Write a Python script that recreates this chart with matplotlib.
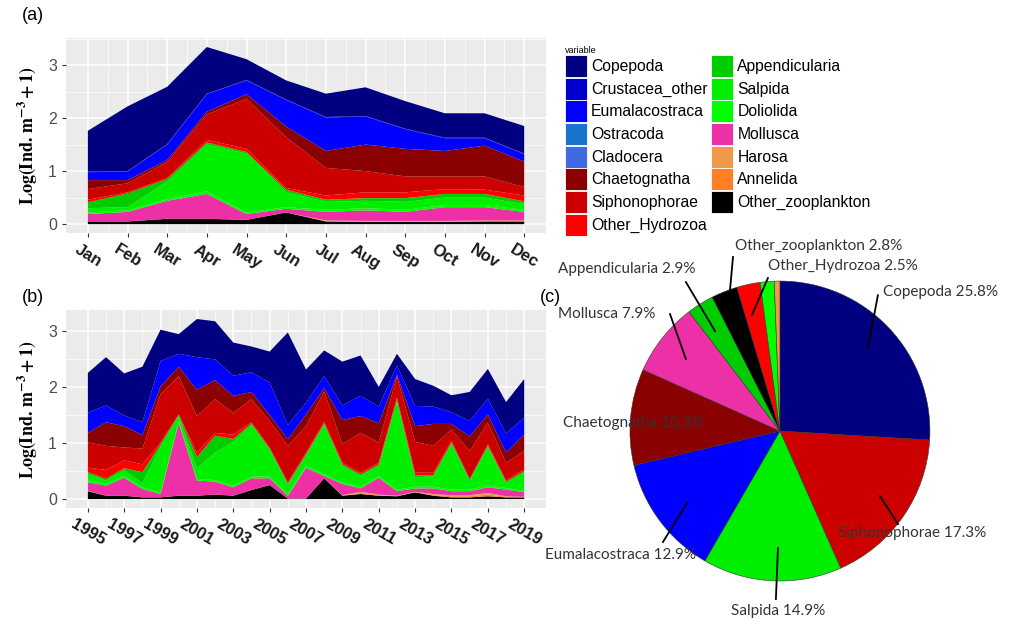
import numpy as np
import matplotlib
matplotlib.use('Agg')
import matplotlib.pyplot as plt
from matplotlib.patches import Patch

plt.rcParams['font.family'] = ['Liberation Sans', 'DejaVu Sans']
plt.rcParams['mathtext.fontset'] = 'stix'

# groups, top of the stack first
taxa = ['Copepoda', 'Crustacea_other', 'Eumalacostraca', 'Ostracoda', 'Cladocera',
        'Chaetognatha', 'Siphonophorae', 'Other_Hydrozoa', 'Appendicularia', 'Salpida',
        'Doliolida', 'Mollusca', 'Harosa', 'Annelida', 'Other_zooplankton']
colors = ['#000080', '#0000CD', '#0000FF', '#1874CD', '#4169E1',
          '#8B0000', '#CD0000', '#FF0000', '#00CD00', '#00EE00',
          '#00FF00', '#EE30A7', '#EE9A49', '#FF7F24', '#000000']

# (a) monthly means, log(ind/m3 + 1)
months = ['Jan', 'Feb', 'Mar', 'Apr', 'May', 'Jun', 'Jul', 'Aug', 'Sep', 'Oct', 'Nov', 'Dec']
m_copepoda = [0.77, 1.22, 1.08, 0.88, 0.39, 0.36, 0.44, 0.54, 0.52, 0.46, 0.46, 0.52]
m_crustacea_other = [0.01] * 12
m_eumalacostraca = [0.15, 0.16, 0.29, 0.33, 0.26, 0.50, 0.63, 0.53, 0.37, 0.24, 0.14, 0.14]
m_ostracoda = [0.0] * 12
m_cladocera = [0.0] * 12
m_chaetognatha = [0.17, 0.06, 0.04, 0.05, 0.09, 0.20, 0.32, 0.50, 0.52, 0.48, 0.58, 0.48]
m_siphonophorae = [0.20, 0.17, 0.30, 0.48, 0.94, 0.96, 0.52, 0.40, 0.30, 0.24, 0.25, 0.16]
m_other_hydrozoa = [0.05, 0.02, 0.02, 0.05, 0.06, 0.03, 0.08, 0.11, 0.11, 0.09, 0.08, 0.11]
m_appendicularia = [0.11, 0.26, 0.05, 0.04, 0.03, 0.05, 0.04, 0.05, 0.07, 0.07, 0.07, 0.05]
m_salpida = [0.08, 0.06, 0.33, 0.88, 1.11, 0.28, 0.15, 0.14, 0.15, 0.14, 0.14, 0.11]
m_doliolida = [0.03, 0.03, 0.03, 0.05, 0.03, 0.03, 0.04, 0.04, 0.04, 0.04, 0.04, 0.04]
m_mollusca = [0.14, 0.18, 0.34, 0.47, 0.11, 0.07, 0.16, 0.20, 0.17, 0.26, 0.25, 0.16]
m_harosa = [0, 0, 0, 0, 0, 0, 0.01, 0.01, 0.01, 0.01, 0.01, 0.01]
m_annelida = [0, 0, 0, 0, 0, 0, 0.01, 0.01, 0.01, 0.01, 0.01, 0.01]
m_other_zooplankton = [0.05, 0.05, 0.10, 0.10, 0.08, 0.22, 0.05, 0.04, 0.04, 0.04, 0.05, 0.05]

# (b) annual means
years = list(range(1995, 2020))
y_copepoda = [0.71, 0.86, 0.75, 0.99, 0.56, 0.35, 0.68, 0.68, 0.59, 0.46, 0.55, 1.65, 0.59,
              0.46, 0.78, 0.72, 0.35, 0.21, 0.48, 0.37, 0.30, 0.52, 0.53, 0.56, 0.69]
y_crustacea_other = [0.0] * 25
y_eumalacostraca = [0.36, 0.30, 0.19, 0.23, 0.45, 0.23, 0.58, 0.37, 0.36, 0.35, 0.58, 0.25, 0.21,
                    0.21, 0.26, 0.36, 0.30, 0.16, 0.36, 0.31, 0.21, 0.27, 0.28, 0.34, 0.30]
y_ostracoda = [0.0] * 25
y_cladocera = [0.0] * 25
y_chaetognatha = [0.17, 0.42, 0.38, 0.24, 0.14, 0.17, 0.47, 0.34, 0.30, 0.13, 0.11, 0.12, 0.21,
                  0.06, 0.43, 0.30, 0.34, 0.03, 0.28, 0.39, 0.10, 0.26, 0.15, 0.18, 0.29]
y_siphonophorae = [0.45, 0.43, 0.23, 0.28, 0.86, 0.68, 0.65, 0.60, 0.39, 0.41, 0.47, 0.65, 0.47,
                   0.54, 0.33, 0.71, 0.36, 0.38, 0.55, 0.48, 0.20, 0.50, 0.38, 0.32, 0.33]
y_other_hydrozoa = [0.08, 0.16, 0.14, 0.14, 0.03, 0.01, 0.08, 0.05, 0.08, 0.02, 0.02, 0.02, 0.03,
                    0.03, 0.03, 0.03, 0.03, 0.03, 0.05, 0.04, 0.03, 0.01, 0.03, 0.02, 0.03]
y_appendicularia = [0.04, 0.03, 0.04, 0.20, 0.05, 0.03, 0.20, 0.30, 0.05, 0.03, 0.03, 0.03, 0.03,
                    0.03, 0.03, 0.03, 0.03, 0.05, 0.03, 0.03, 0.03, 0.03, 0.03, 0.03, 0.03]
y_salpida = [0.11, 0.06, 0.10, 0.07, 0.81, 0.08, 0.19, 0.49, 0.78, 0.92, 0.47, 0.16, 0.18,
             0.88, 0.29, 0.19, 0.18, 1.56, 0.17, 0.18, 0.81, 0.15, 0.68, 0.08, 0.32]
y_doliolida = [0.03] * 25
y_mollusca = [0.15, 0.18, 0.32, 0.15, 0.06, 1.30, 0.27, 0.23, 0.15, 0.21, 0.12, 0.05, 0.55,
              0.04, 0.20, 0.06, 0.30, 0.08, 0.06, 0.10, 0.07, 0.07, 0.10, 0.12, 0.08]
y_harosa = [0.01, 0, 0, 0, 0, 0, 0, 0, 0, 0, 0, 0, 0,
            0, 0.01, 0.02, 0.01, 0.01, 0.01, 0.02, 0.02, 0.02, 0.03, 0.01, 0.01]
y_annelida = [0, 0, 0, 0, 0, 0, 0, 0, 0, 0, 0, 0, 0,
              0, 0, 0.02, 0.01, 0, 0, 0.01, 0.02, 0.02, 0.03, 0.01, 0]
y_other_zooplankton = [0.14, 0.06, 0.06, 0.03, 0.03, 0.06, 0.06, 0.08, 0.06, 0.16, 0.25, 0.01, 0.01,
                       0.37, 0.06, 0.09, 0.06, 0.05, 0.12, 0.06, 0.03, 0.03, 0.05, 0.03, 0.03]

# (c) share of total abundance (%), clockwise from 12 o'clock
pie_taxa = ['Copepoda', 'Siphonophorae', 'Salpida', 'Eumalacostraca', 'Chaetognatha', 'Mollusca',
            'Appendicularia', 'Other_zooplankton', 'Other_Hydrozoa', 'Doliolida', 'Harosa']
pie_pct = [25.8, 17.3, 14.9, 12.9, 10.3, 7.9, 2.9, 2.8, 2.5, 1.5, 0.6]

monthly = [m_copepoda, m_crustacea_other, m_eumalacostraca, m_ostracoda, m_cladocera,
           m_chaetognatha, m_siphonophorae, m_other_hydrozoa, m_appendicularia, m_salpida,
           m_doliolida, m_mollusca, m_harosa, m_annelida, m_other_zooplankton]
annual = [y_copepoda, y_crustacea_other, y_eumalacostraca, y_ostracoda, y_cladocera,
          y_chaetognatha, y_siphonophorae, y_other_hydrozoa, y_appendicularia, y_salpida,
          y_doliolida, y_mollusca, y_harosa, y_annelida, y_other_zooplankton]
colmap = dict(zip(taxa, colors))

fig = plt.figure(figsize=(10.11, 6.28), dpi=100)
ax_a = fig.add_axes([0.0653, 0.629, 0.4748, 0.3105])
ax_b = fig.add_axes([0.0653, 0.191, 0.4748, 0.3153])
ax_c = fig.add_axes([0.6231, 0.0748, 0.2967, 0.4777])

ylab = r'$\mathbf{Log(Ind.\,m^{-3}+1)}$'


def gg_panel(ax):
    ax.set_facecolor('#EBEBEB')
    for s in ax.spines.values():
        s.set_visible(False)
    ax.set_axisbelow(True)
    ax.grid(which='major', color='white', lw=1.1)
    ax.grid(which='minor', color='white', lw=0.5)
    ax.tick_params(which='major', length=3, width=0.8, color='#333333',
                   labelsize=11.5, labelcolor='#4D4D4D')
    ax.tick_params(which='minor', length=0)
    ax.set_yticks([0, 1, 2, 3])
    ax.set_yticks([0.5, 1.5, 2.5, 3.5], minor=True)
    ax.set_ylabel(ylab, fontsize=13, labelpad=6)


# (a) seasonal stack, bottom layer first
x_m = np.arange(1, 13)
ax_a.stackplot(x_m, monthly[::-1], colors=colors[::-1], lw=0)
gg_panel(ax_a)
ax_a.set_xlim(0.45, 12.55)
ax_a.set_ylim(-0.167, 3.51)
ax_a.set_xticks(x_m)
ax_a.set_xticks(x_m[:-1] + 0.5, minor=True)
ax_a.set_xticklabels(months, rotation=-32, ha='center', va='top', fontweight='bold',
                     color='#1A1A1A', fontsize=12)

# (b) inter-annual stack
ax_b.stackplot(years, annual[::-1], colors=colors[::-1], lw=0)
gg_panel(ax_b)
ax_b.set_xlim(1993.8, 2020.2)
ax_b.set_ylim(-0.16, 3.37)
ax_b.set_xticks(years[::2])
ax_b.set_xticks(years[1::2], minor=True)
ax_b.set_xticklabels([str(y) for y in years[::2]], rotation=-30, ha='center', va='top',
                     fontweight='bold', color='#1A1A1A', fontsize=12)

# legend shared by (a) and (b)
handles = [Patch(facecolor=c, edgecolor='white', lw=0.6, label=t) for t, c in zip(taxa, colors)]
fig.legend(handles=handles, ncol=2, loc='upper left', bbox_to_anchor=(0.548, 0.945),
           frameon=False, title='variable', title_fontsize=6.5, alignment='left',
           fontsize=11.3, handlelength=1.4, handleheight=1.78, labelspacing=0.04,
           handletextpad=0.25, columnspacing=0.25, borderpad=0.2)

# (c) pie of total composition
wedges, _ = ax_c.pie(pie_pct, colors=[colmap[t] for t in pie_taxa], startangle=90,
                     counterclock=False, radius=1,
                     wedgeprops=dict(edgecolor='#333333', lw=0.4))
ax_c.set_xlim(-1, 1)
ax_c.set_ylim(-1, 1)
ax_c.set_aspect('equal')
ax_c.axis('off')

lab = dict(fontsize=11, color='#333333', family=['Lato', 'DejaVu Sans'])
pie_labels = [
    ('Copepoda', 0.69, 0.925, 'left', (0.653, 0.905), (0.587, 0.553)),
    ('Siphonophorae', 0.39, -0.68, 'left', (0.667, -0.433), (0.787, -0.62)),
    ('Salpida', -0.01, -1.20, 'center', (-0.013, -0.78), (-0.027, -1.12)),
    ('Eumalacostraca', -0.56, -0.825, 'right', (-0.62, -0.48), (-0.78, -0.74)),
    ('Chaetognatha', -1.445, 0.055, 'left', None, None),
    ('Mollusca', -1.48, 0.78, 'left', (-0.733, 0.78), (-0.627, 0.48)),
    ('Appendicularia', -1.48, 1.08, 'left', (-0.627, 0.993), (-0.433, 0.667)),
    ('Other_zooplankton', -0.30, 1.233, 'left', (-0.313, 1.16), (-0.333, 0.94)),
    ('Other_Hydrozoa', -0.08, 1.10, 'left', (-0.08, 1.02), (-0.187, 0.773)),
]
pct = dict(zip(pie_taxa, pie_pct))
for name, tx, ty, ha, p0, p1 in pie_labels:
    if p0 is not None:
        ax_c.plot([p0[0], p1[0]], [p0[1], p1[1]], color='black', lw=1.3, clip_on=False)
    ax_c.text(tx, ty, f'{name} {pct[name]}%', ha=ha, va='center', clip_on=False, **lab)

fig.text(0.022, 0.975, '(a)', fontsize=13, va='center')
fig.text(0.022, 0.527, '(b)', fontsize=13, va='center')
fig.text(0.534, 0.527, '(c)', fontsize=13, va='center')

fig.savefig('out.png', dpi=100)
